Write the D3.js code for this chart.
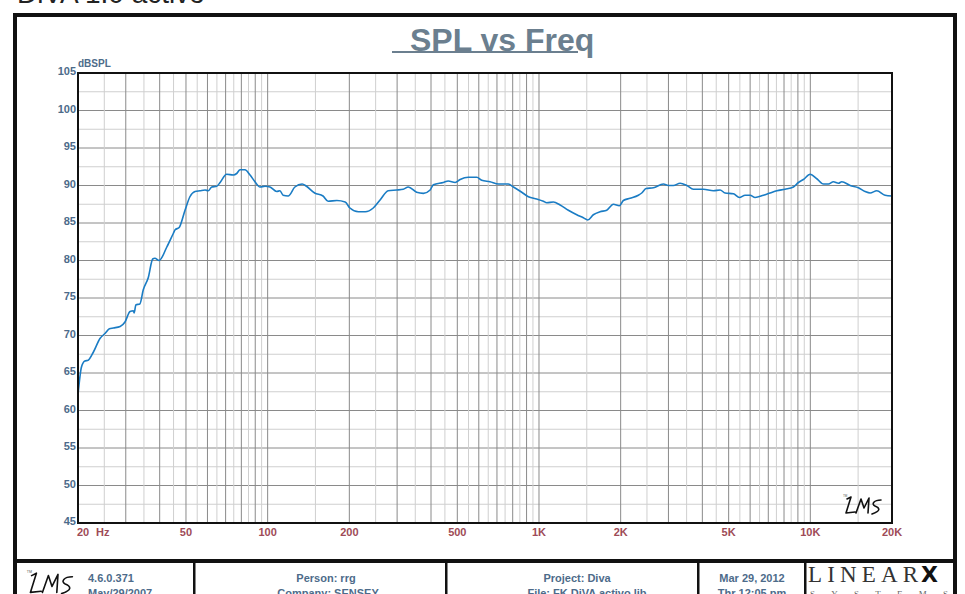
<!DOCTYPE html>
<html>
<head>
  <meta charset="utf-8">
  <style>
    body { margin: 0; background: #fff; }
    svg { display: block; font-family: "Liberation Sans", Arial, sans-serif; }
  </style>
</head>
<body>
  <script src="https://d3js.org/d3.v7.min.js"></script>
  <script>
    const freqHz = [20, 20.6, 21.2, 21.8, 22.8, 24.1, 25.2, 26.1, 27.0, 28.6, 29.8, 31.1, 32.0, 32.2, 32.7,
      33.8, 34.8, 36.3, 37.7, 38.4, 39.8, 42.5, 44.9, 45.6, 47.2, 49.6, 51.7, 54.0, 56.3, 58.8,
      60.4, 62.2, 64.9, 66.8, 70.6, 74.7, 76.9, 79.1, 82.5, 86.1, 89.8, 93.7, 97.8, 102, 108,
      111, 114, 119, 126, 134, 139, 149, 160, 167, 180, 193, 201, 216, 229, 245, 260, 278, 299,
      316, 330, 354, 375, 397, 408, 444, 463, 491, 512, 549, 590, 615, 660, 709, 771, 805, 864,
      914, 981, 1038, 1068, 1130, 1196, 1283, 1378, 1457, 1512, 1586, 1679, 1777, 1880, 1978,
      2046, 2166, 2324, 2392, 2482, 2640, 2874, 2998, 3128, 3312, 3506, 3708, 4036, 4394, 4650,
      4852, 5206, 5478, 5750, 5998, 6258, 6714, 7108, 7526, 8072, 8664, 9038, 9430, 9984, 10568,
      11176, 11660, 12166, 12694, 13064, 14020, 15040, 15920, 16610, 17580, 18864, 19968];
    const splDb = [62.1, 65.8, 66.6, 66.7, 67.8, 69.6, 70.3, 70.9, 71.0, 71.2, 71.8, 73.2, 73.3, 73.0, 74.1,
      74.2, 76.1, 77.7, 80.2, 80.3, 80.0, 81.8, 83.6, 84.1, 84.4, 86.7, 88.5, 89.2, 89.3, 89.4,
      89.3, 89.8, 89.9, 90.4, 91.5, 91.4, 91.6, 92.1, 92.1, 91.4, 90.5, 89.8, 89.9, 89.8, 89.2,
      89.3, 88.7, 88.6, 89.8, 90.2, 89.9, 89.0, 88.6, 87.9, 88.0, 87.8, 87.0, 86.5, 86.5, 87.0, 88.1, 89.3, 89.4,
      89.5, 89.8, 89.1, 88.95, 89.4, 90.1, 90.4, 90.6, 90.4, 90.8, 91.1, 91.1, 90.7, 90.5, 90.2, 90.2, 89.8, 89.1,
      88.5, 88.2, 87.9, 87.7, 87.8, 87.4, 86.7, 86.1, 85.7, 85.4, 86.1, 86.5, 86.7, 87.5, 87.3,
      88.0, 88.3, 88.7, 89.0, 89.6, 89.7, 90.2, 90.0, 90.0, 90.3, 90.0, 89.5, 89.5, 89.3, 89.4,
      89.0, 88.9, 88.4, 88.7, 88.7, 88.4, 88.7, 89.0, 89.3, 89.5, 89.8, 90.4, 90.8, 91.5, 90.9,
      90.2, 90.2, 90.5, 90.3, 90.5, 90.0, 89.7, 89.2, 89.0, 89.3, 88.7, 88.6];

    const yTicks = [45, 50, 55, 60, 65, 70, 75, 80, 85, 90, 95, 100, 105];
    const xTickValues = [20, 50, 100, 200, 500, 1000, 2000, 5000, 10000, 20000];
    const xTickLabels = ["20", "50", "100", "200", "500", "1K", "2K", "5K", "10K", "20K"];

    const W = 965, H = 594;
    const plot = { left: 78, right: 892, top: 73, bottom: 523 };

    const x = d3.scaleLog().domain([20, 20000]).range([plot.left, plot.right]);
    const y = d3.scaleLinear().domain([45, 105]).range([plot.bottom, plot.top]);

    const svg = d3.select("body").append("svg")
      .attr("width", W)
      .attr("height", H);

    // page title, mostly cut off by the top edge
    svg.append("text")
      .attr("x", 17).attr("y", 2.5)
      .attr("font-size", 28)
      .attr("fill", "#222")
      .text("DiVA 1.0 activo");

    // outer frame
    svg.append("rect")
      .attr("x", 15).attr("y", 15)
      .attr("width", 940).attr("height", 640)
      .attr("fill", "none")
      .attr("stroke", "#111")
      .attr("stroke-width", 4);

    // chart title
    svg.append("text")
      .attr("x", 410).attr("y", 51)
      .attr("font-size", 32)
      .attr("font-weight", "bold")
      .attr("fill", "#6b7f8f")
      .text("SPL vs Freq");
    svg.append("rect")
      .attr("x", 392).attr("y", 51)
      .attr("width", 186).attr("height", 2)
      .attr("fill", "#6b7f8f");

    // grid: horizontal every 2.5 dB
    const hMinor = d3.range(47.5, 105, 5);
    svg.append("g").selectAll("line")
      .data(hMinor).join("line")
      .attr("x1", plot.left).attr("x2", plot.right)
      .attr("y1", d => y(d)).attr("y2", d => y(d))
      .attr("stroke", "#cfcfcf");
    svg.append("g").selectAll("line")
      .data(yTicks.slice(1, -1)).join("line")
      .attr("x1", plot.left).attr("x2", plot.right)
      .attr("y1", d => y(d)).attr("y2", d => y(d))
      .attr("stroke", "#8a8a8a");

    // grid: vertical, integer multiples dark, half steps light
    const vMajor = [], vMinor = [];
    [10, 100, 1000, 10000].forEach(dec => {
      for (let m = 1; m <= 9.5; m += 0.5) {
        const f = m * dec;
        if (f <= 20 || f >= 20000) continue;
        (Number.isInteger(m) ? vMajor : vMinor).push(f);
      }
    });
    svg.append("g").selectAll("line")
      .data(vMinor).join("line")
      .attr("x1", d => x(d)).attr("x2", d => x(d))
      .attr("y1", plot.top).attr("y2", plot.bottom)
      .attr("stroke", "#cfcfcf");
    svg.append("g").selectAll("line")
      .data(vMajor).join("line")
      .attr("x1", d => x(d)).attr("x2", d => x(d))
      .attr("y1", plot.top).attr("y2", plot.bottom)
      .attr("stroke", "#8a8a8a");

    // response curve
    const line = d3.line()
      .x((d, i) => x(freqHz[i]))
      .y(d => y(d))
      .curve(d3.curveMonotoneX);
    svg.append("path")
      .datum(splDb)
      .attr("d", line)
      .attr("fill", "none")
      .attr("stroke", "#1a7cc4")
      .attr("stroke-width", 1.6);

    // plot border
    svg.append("rect")
      .attr("x", plot.left).attr("y", plot.top)
      .attr("width", plot.right - plot.left)
      .attr("height", plot.bottom - plot.top)
      .attr("fill", "none")
      .attr("stroke", "#111")
      .attr("stroke-width", 2);

    // y labels
    svg.append("g").selectAll("text")
      .data(yTicks).join("text")
      .attr("x", 76)
      .attr("y", d => y(d) + 2)
      .attr("text-anchor", "end")
      .attr("font-size", 11)
      .attr("font-weight", "bold")
      .attr("fill", "#4d6b8a")
      .text(d => d);
    svg.append("text")
      .attr("x", 78).attr("y", 67)
      .attr("font-size", 10)
      .attr("font-weight", "bold")
      .attr("fill", "#4d6b8a")
      .text("dBSPL");

    // x labels
    svg.append("g").selectAll("text")
      .data(xTickValues).join("text")
      .attr("x", (d, i) => i === 0 ? 77 : x(d))
      .attr("y", 536)
      .attr("text-anchor", (d, i) => i === 0 ? "start" : "middle")
      .attr("font-size", 11)
      .attr("font-weight", "bold")
      .attr("fill", "#9e4b57")
      .text((d, i) => xTickLabels[i]);
    svg.append("text")
      .attr("x", 96).attr("y", 536)
      .attr("font-size", 11)
      .attr("font-weight", "bold")
      .attr("fill", "#9e4b57")
      .text("Hz");

    // LMS scribble logo
    const lmsPath = "M3,3 L7,1 M7,1 L2,17 L11,16 M12,17 L17,3 L20,12 L25,2 L24,17 " +
      "M37,4 C30,4 27,8 31,10 C36,12 37,15 28,18";
    function lms(tx, ty, s) {
      const g = svg.append("g").attr("transform", `translate(${tx},${ty}) scale(${s})`);
      g.append("path").attr("d", lmsPath)
        .attr("fill", "none").attr("stroke", "#111")
        .attr("stroke-width", 1.6 / s)
        .attr("stroke-linecap", "round").attr("stroke-linejoin", "round");
      g.append("text").attr("x", -1).attr("y", 1).attr("font-size", 3).attr("fill", "#555").text("TM");
    }
    lms(844, 496, 1.0);
    lms(28, 572, 1.2);

    // footer
    svg.append("rect")
      .attr("x", 15).attr("y", 559)
      .attr("width", 940).attr("height", 4)
      .attr("fill", "#111");
    [194, 446, 698, 805].forEach(xx => {
      svg.append("rect").attr("x", xx - 1).attr("y", 561)
        .attr("width", 2.5).attr("height", 40).attr("fill", "#111");
    });

    const footer = [
      { x: [88, 88], anchor: "start", lines: ["4.6.0.371", "May/29/2007"] },
      { x: [326, 328], anchor: "middle", lines: ["Person: rrg", "Company: SENSEY"] },
      { x: [577, 587], anchor: "middle", lines: ["Project: Diva", "File: FK DiVA activo.lib"] },
      { x: [752, 752], anchor: "middle", lines: ["Mar 29, 2012", "Thr 12:05 pm"] }
    ];
    footer.forEach(c => {
      c.lines.forEach((t, i) => {
        svg.append("text")
          .attr("x", c.x[i])
          .attr("y", 582 + i * 14.5)
          .attr("text-anchor", c.anchor)
          .attr("font-size", 11)
          .attr("font-weight", "bold")
          .attr("fill", "#4d6b8a")
          .text(t);
      });
    });

    // LinearX logo
    svg.append("text")
      .attr("x", 808).attr("y", 582)
      .attr("font-family", "Liberation Serif, serif")
      .attr("font-size", 23)
      .attr("fill", "#333")
      .attr("textLength", 110)
      .attr("lengthAdjust", "spacing")
      .text("LINEAR");
    svg.append("text")
      .attr("x", 921).attr("y", 582)
      .attr("font-family", "DejaVu Sans, sans-serif")
      .attr("font-size", 22)
      .attr("font-weight", "bold")
      .attr("fill", "#111")
      .text("X");
    svg.append("text")
      .attr("x", 810).attr("y", 597)
      .attr("font-family", "Liberation Serif, serif")
      .attr("font-size", 9)
      .attr("fill", "#666")
      .attr("textLength", 138)
      .attr("lengthAdjust", "spacing")
      .text("SYSTEMS");
  </script>
</body>
</html>
